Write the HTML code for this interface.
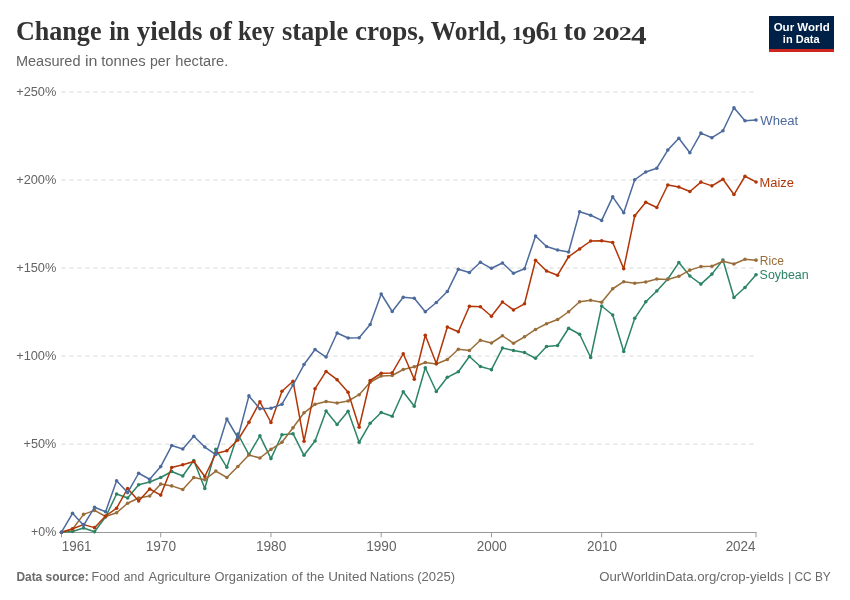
<!DOCTYPE html>
<html><head><meta charset="utf-8"><title>Change in yields of key staple crops</title>
<style>
html,body{margin:0;padding:0;background:#ffffff;}
body{width:850px;height:600px;overflow:hidden;font-family:"Liberation Sans",sans-serif;}
svg{display:block;will-change:transform;}
text{white-space:pre;}
</style></head><body>
<svg width="850" height="600" viewBox="0 0 850 600" font-family="Liberation Sans, sans-serif">
<line x1="61.5" x2="756" y1="91.95" y2="91.95" stroke="#d8d8d8" stroke-width="1" stroke-dasharray="4,4"/>
<line x1="61.5" x2="756" y1="180.0" y2="180.0" stroke="#d8d8d8" stroke-width="1" stroke-dasharray="4,4"/>
<line x1="61.5" x2="756" y1="268.05" y2="268.05" stroke="#d8d8d8" stroke-width="1" stroke-dasharray="4,4"/>
<line x1="61.5" x2="756" y1="356.1" y2="356.1" stroke="#d8d8d8" stroke-width="1" stroke-dasharray="4,4"/>
<line x1="61.5" x2="756" y1="444.15" y2="444.15" stroke="#d8d8d8" stroke-width="1" stroke-dasharray="4,4"/>
<line x1="61.5" x2="756.5" y1="532.5" y2="532.5" stroke="#999999" stroke-width="1"/>
<line x1="61.50" x2="61.50" y1="532.5" y2="537.3" stroke="#999999" stroke-width="1"/>
<line x1="160.72" x2="160.72" y1="532.5" y2="537.3" stroke="#999999" stroke-width="1"/>
<line x1="270.96" x2="270.96" y1="532.5" y2="537.3" stroke="#999999" stroke-width="1"/>
<line x1="381.20" x2="381.20" y1="532.5" y2="537.3" stroke="#999999" stroke-width="1"/>
<line x1="491.44" x2="491.44" y1="532.5" y2="537.3" stroke="#999999" stroke-width="1"/>
<line x1="601.68" x2="601.68" y1="532.5" y2="537.3" stroke="#999999" stroke-width="1"/>
<line x1="756.01" x2="756.01" y1="532.5" y2="537.3" stroke="#999999" stroke-width="1"/>
<polyline points="61.50,532.20 72.52,531.50 83.55,528.05 94.57,531.70 105.60,516.90 116.62,493.95 127.64,498.00 138.67,484.80 149.69,481.95 160.72,477.50 171.74,471.50 182.76,476.00 193.79,460.55 204.81,488.45 215.84,449.30 226.86,467.30 237.88,434.00 248.91,454.55 259.93,435.80 270.96,458.60 281.98,434.75 293.00,433.70 304.03,455.30 315.05,441.05 326.08,411.05 337.10,424.55 348.12,411.20 359.15,442.25 370.17,423.20 381.20,412.55 392.22,416.30 403.24,391.70 414.27,406.25 425.29,367.70 436.32,391.55 447.34,377.30 458.36,371.75 469.39,356.45 480.41,366.50 491.44,369.65 502.46,348.05 513.48,350.45 524.51,352.55 535.53,358.25 546.56,346.55 557.58,345.50 568.60,328.25 579.63,334.25 590.65,357.50 601.68,306.00 612.70,315.00 623.72,351.45 634.75,318.30 645.77,301.80 656.80,291.00 667.82,279.00 678.84,262.55 689.87,276.00 700.89,284.10 711.92,274.10 722.94,260.00 733.96,297.50 744.99,287.45 756.01,274.70" fill="none" stroke="#2C8465" stroke-width="1.5" stroke-linejoin="round"/>
<g fill="#2C8465"><circle cx="61.50" cy="532.20" r="1.8"/><circle cx="72.52" cy="531.50" r="1.8"/><circle cx="83.55" cy="528.05" r="1.8"/><circle cx="94.57" cy="531.70" r="1.8"/><circle cx="105.60" cy="516.90" r="1.8"/><circle cx="116.62" cy="493.95" r="1.8"/><circle cx="127.64" cy="498.00" r="1.8"/><circle cx="138.67" cy="484.80" r="1.8"/><circle cx="149.69" cy="481.95" r="1.8"/><circle cx="160.72" cy="477.50" r="1.8"/><circle cx="171.74" cy="471.50" r="1.8"/><circle cx="182.76" cy="476.00" r="1.8"/><circle cx="193.79" cy="460.55" r="1.8"/><circle cx="204.81" cy="488.45" r="1.8"/><circle cx="215.84" cy="449.30" r="1.8"/><circle cx="226.86" cy="467.30" r="1.8"/><circle cx="237.88" cy="434.00" r="1.8"/><circle cx="248.91" cy="454.55" r="1.8"/><circle cx="259.93" cy="435.80" r="1.8"/><circle cx="270.96" cy="458.60" r="1.8"/><circle cx="281.98" cy="434.75" r="1.8"/><circle cx="293.00" cy="433.70" r="1.8"/><circle cx="304.03" cy="455.30" r="1.8"/><circle cx="315.05" cy="441.05" r="1.8"/><circle cx="326.08" cy="411.05" r="1.8"/><circle cx="337.10" cy="424.55" r="1.8"/><circle cx="348.12" cy="411.20" r="1.8"/><circle cx="359.15" cy="442.25" r="1.8"/><circle cx="370.17" cy="423.20" r="1.8"/><circle cx="381.20" cy="412.55" r="1.8"/><circle cx="392.22" cy="416.30" r="1.8"/><circle cx="403.24" cy="391.70" r="1.8"/><circle cx="414.27" cy="406.25" r="1.8"/><circle cx="425.29" cy="367.70" r="1.8"/><circle cx="436.32" cy="391.55" r="1.8"/><circle cx="447.34" cy="377.30" r="1.8"/><circle cx="458.36" cy="371.75" r="1.8"/><circle cx="469.39" cy="356.45" r="1.8"/><circle cx="480.41" cy="366.50" r="1.8"/><circle cx="491.44" cy="369.65" r="1.8"/><circle cx="502.46" cy="348.05" r="1.8"/><circle cx="513.48" cy="350.45" r="1.8"/><circle cx="524.51" cy="352.55" r="1.8"/><circle cx="535.53" cy="358.25" r="1.8"/><circle cx="546.56" cy="346.55" r="1.8"/><circle cx="557.58" cy="345.50" r="1.8"/><circle cx="568.60" cy="328.25" r="1.8"/><circle cx="579.63" cy="334.25" r="1.8"/><circle cx="590.65" cy="357.50" r="1.8"/><circle cx="601.68" cy="306.00" r="1.8"/><circle cx="612.70" cy="315.00" r="1.8"/><circle cx="623.72" cy="351.45" r="1.8"/><circle cx="634.75" cy="318.30" r="1.8"/><circle cx="645.77" cy="301.80" r="1.8"/><circle cx="656.80" cy="291.00" r="1.8"/><circle cx="667.82" cy="279.00" r="1.8"/><circle cx="678.84" cy="262.55" r="1.8"/><circle cx="689.87" cy="276.00" r="1.8"/><circle cx="700.89" cy="284.10" r="1.8"/><circle cx="711.92" cy="274.10" r="1.8"/><circle cx="722.94" cy="260.00" r="1.8"/><circle cx="733.96" cy="297.50" r="1.8"/><circle cx="744.99" cy="287.45" r="1.8"/><circle cx="756.01" cy="274.70" r="1.8"/></g>
<polyline points="61.50,532.20 72.52,529.20 83.55,514.40 94.57,510.40 105.60,516.50 116.62,512.70 127.64,503.25 138.67,498.00 149.69,496.00 160.72,484.10 171.74,485.90 182.76,489.50 193.79,477.50 204.81,479.75 215.84,471.05 226.86,477.50 237.88,466.55 248.91,455.00 259.93,458.00 270.96,449.40 281.98,442.30 293.00,427.80 304.03,412.80 315.05,404.30 326.08,401.45 337.10,402.95 348.12,401.00 359.15,394.70 370.17,382.25 381.20,376.00 392.22,375.50 403.24,369.50 414.27,366.80 425.29,362.45 436.32,363.95 447.34,359.45 458.36,349.25 469.39,350.45 480.41,340.25 491.44,343.00 502.46,335.75 513.48,343.25 524.51,336.80 535.53,329.45 546.56,323.75 557.58,319.55 568.60,311.75 579.63,301.70 590.65,300.20 601.68,302.30 612.70,288.75 623.72,281.70 634.75,283.20 645.77,282.00 656.80,279.00 667.82,279.45 678.84,276.30 689.87,270.10 700.89,266.60 711.92,266.30 722.94,261.20 733.96,264.05 744.99,259.25 756.01,260.15" fill="none" stroke="#996D39" stroke-width="1.5" stroke-linejoin="round"/>
<g fill="#996D39"><circle cx="61.50" cy="532.20" r="1.8"/><circle cx="72.52" cy="529.20" r="1.8"/><circle cx="83.55" cy="514.40" r="1.8"/><circle cx="94.57" cy="510.40" r="1.8"/><circle cx="105.60" cy="516.50" r="1.8"/><circle cx="116.62" cy="512.70" r="1.8"/><circle cx="127.64" cy="503.25" r="1.8"/><circle cx="138.67" cy="498.00" r="1.8"/><circle cx="149.69" cy="496.00" r="1.8"/><circle cx="160.72" cy="484.10" r="1.8"/><circle cx="171.74" cy="485.90" r="1.8"/><circle cx="182.76" cy="489.50" r="1.8"/><circle cx="193.79" cy="477.50" r="1.8"/><circle cx="204.81" cy="479.75" r="1.8"/><circle cx="215.84" cy="471.05" r="1.8"/><circle cx="226.86" cy="477.50" r="1.8"/><circle cx="237.88" cy="466.55" r="1.8"/><circle cx="248.91" cy="455.00" r="1.8"/><circle cx="259.93" cy="458.00" r="1.8"/><circle cx="270.96" cy="449.40" r="1.8"/><circle cx="281.98" cy="442.30" r="1.8"/><circle cx="293.00" cy="427.80" r="1.8"/><circle cx="304.03" cy="412.80" r="1.8"/><circle cx="315.05" cy="404.30" r="1.8"/><circle cx="326.08" cy="401.45" r="1.8"/><circle cx="337.10" cy="402.95" r="1.8"/><circle cx="348.12" cy="401.00" r="1.8"/><circle cx="359.15" cy="394.70" r="1.8"/><circle cx="370.17" cy="382.25" r="1.8"/><circle cx="381.20" cy="376.00" r="1.8"/><circle cx="392.22" cy="375.50" r="1.8"/><circle cx="403.24" cy="369.50" r="1.8"/><circle cx="414.27" cy="366.80" r="1.8"/><circle cx="425.29" cy="362.45" r="1.8"/><circle cx="436.32" cy="363.95" r="1.8"/><circle cx="447.34" cy="359.45" r="1.8"/><circle cx="458.36" cy="349.25" r="1.8"/><circle cx="469.39" cy="350.45" r="1.8"/><circle cx="480.41" cy="340.25" r="1.8"/><circle cx="491.44" cy="343.00" r="1.8"/><circle cx="502.46" cy="335.75" r="1.8"/><circle cx="513.48" cy="343.25" r="1.8"/><circle cx="524.51" cy="336.80" r="1.8"/><circle cx="535.53" cy="329.45" r="1.8"/><circle cx="546.56" cy="323.75" r="1.8"/><circle cx="557.58" cy="319.55" r="1.8"/><circle cx="568.60" cy="311.75" r="1.8"/><circle cx="579.63" cy="301.70" r="1.8"/><circle cx="590.65" cy="300.20" r="1.8"/><circle cx="601.68" cy="302.30" r="1.8"/><circle cx="612.70" cy="288.75" r="1.8"/><circle cx="623.72" cy="281.70" r="1.8"/><circle cx="634.75" cy="283.20" r="1.8"/><circle cx="645.77" cy="282.00" r="1.8"/><circle cx="656.80" cy="279.00" r="1.8"/><circle cx="667.82" cy="279.45" r="1.8"/><circle cx="678.84" cy="276.30" r="1.8"/><circle cx="689.87" cy="270.10" r="1.8"/><circle cx="700.89" cy="266.60" r="1.8"/><circle cx="711.92" cy="266.30" r="1.8"/><circle cx="722.94" cy="261.20" r="1.8"/><circle cx="733.96" cy="264.05" r="1.8"/><circle cx="744.99" cy="259.25" r="1.8"/><circle cx="756.01" cy="260.15" r="1.8"/></g>
<polyline points="61.50,532.20 72.52,528.80 83.55,524.60 94.57,527.65 105.60,516.00 116.62,508.20 127.64,488.50 138.67,501.00 149.69,489.00 160.72,495.10 171.74,467.50 182.76,464.75 193.79,461.45 204.81,476.45 215.84,453.50 226.86,450.80 237.88,440.00 248.91,422.30 259.93,401.80 270.96,422.50 281.98,391.25 293.00,381.20 304.03,441.20 315.05,388.70 326.08,371.45 337.10,379.70 348.12,392.30 359.15,427.25 370.17,380.50 381.20,373.25 392.22,372.90 403.24,353.75 414.27,379.25 425.29,335.30 436.32,363.50 447.34,326.95 458.36,331.75 469.39,306.25 480.41,306.70 491.44,316.30 502.46,302.00 513.48,309.95 524.51,303.80 535.53,260.20 546.56,271.00 557.58,275.20 568.60,256.75 579.63,248.95 590.65,241.00 601.68,240.80 612.70,242.45 623.72,268.70 634.75,215.75 645.77,202.25 656.80,207.50 667.82,185.00 678.84,186.95 689.87,191.45 700.89,182.10 711.92,185.85 722.94,179.25 733.96,194.55 744.99,176.25 756.01,181.95" fill="none" stroke="#B13507" stroke-width="1.5" stroke-linejoin="round"/>
<g fill="#B13507"><circle cx="61.50" cy="532.20" r="1.8"/><circle cx="72.52" cy="528.80" r="1.8"/><circle cx="83.55" cy="524.60" r="1.8"/><circle cx="94.57" cy="527.65" r="1.8"/><circle cx="105.60" cy="516.00" r="1.8"/><circle cx="116.62" cy="508.20" r="1.8"/><circle cx="127.64" cy="488.50" r="1.8"/><circle cx="138.67" cy="501.00" r="1.8"/><circle cx="149.69" cy="489.00" r="1.8"/><circle cx="160.72" cy="495.10" r="1.8"/><circle cx="171.74" cy="467.50" r="1.8"/><circle cx="182.76" cy="464.75" r="1.8"/><circle cx="193.79" cy="461.45" r="1.8"/><circle cx="204.81" cy="476.45" r="1.8"/><circle cx="215.84" cy="453.50" r="1.8"/><circle cx="226.86" cy="450.80" r="1.8"/><circle cx="237.88" cy="440.00" r="1.8"/><circle cx="248.91" cy="422.30" r="1.8"/><circle cx="259.93" cy="401.80" r="1.8"/><circle cx="270.96" cy="422.50" r="1.8"/><circle cx="281.98" cy="391.25" r="1.8"/><circle cx="293.00" cy="381.20" r="1.8"/><circle cx="304.03" cy="441.20" r="1.8"/><circle cx="315.05" cy="388.70" r="1.8"/><circle cx="326.08" cy="371.45" r="1.8"/><circle cx="337.10" cy="379.70" r="1.8"/><circle cx="348.12" cy="392.30" r="1.8"/><circle cx="359.15" cy="427.25" r="1.8"/><circle cx="370.17" cy="380.50" r="1.8"/><circle cx="381.20" cy="373.25" r="1.8"/><circle cx="392.22" cy="372.90" r="1.8"/><circle cx="403.24" cy="353.75" r="1.8"/><circle cx="414.27" cy="379.25" r="1.8"/><circle cx="425.29" cy="335.30" r="1.8"/><circle cx="436.32" cy="363.50" r="1.8"/><circle cx="447.34" cy="326.95" r="1.8"/><circle cx="458.36" cy="331.75" r="1.8"/><circle cx="469.39" cy="306.25" r="1.8"/><circle cx="480.41" cy="306.70" r="1.8"/><circle cx="491.44" cy="316.30" r="1.8"/><circle cx="502.46" cy="302.00" r="1.8"/><circle cx="513.48" cy="309.95" r="1.8"/><circle cx="524.51" cy="303.80" r="1.8"/><circle cx="535.53" cy="260.20" r="1.8"/><circle cx="546.56" cy="271.00" r="1.8"/><circle cx="557.58" cy="275.20" r="1.8"/><circle cx="568.60" cy="256.75" r="1.8"/><circle cx="579.63" cy="248.95" r="1.8"/><circle cx="590.65" cy="241.00" r="1.8"/><circle cx="601.68" cy="240.80" r="1.8"/><circle cx="612.70" cy="242.45" r="1.8"/><circle cx="623.72" cy="268.70" r="1.8"/><circle cx="634.75" cy="215.75" r="1.8"/><circle cx="645.77" cy="202.25" r="1.8"/><circle cx="656.80" cy="207.50" r="1.8"/><circle cx="667.82" cy="185.00" r="1.8"/><circle cx="678.84" cy="186.95" r="1.8"/><circle cx="689.87" cy="191.45" r="1.8"/><circle cx="700.89" cy="182.10" r="1.8"/><circle cx="711.92" cy="185.85" r="1.8"/><circle cx="722.94" cy="179.25" r="1.8"/><circle cx="733.96" cy="194.55" r="1.8"/><circle cx="744.99" cy="176.25" r="1.8"/><circle cx="756.01" cy="181.95" r="1.8"/></g>
<polyline points="61.50,532.20 72.52,513.30 83.55,525.30 94.57,507.30 105.60,511.70 116.62,480.75 127.64,492.60 138.67,473.25 149.69,479.25 160.72,466.60 171.74,445.55 182.76,449.00 193.79,436.25 204.81,447.05 215.84,454.55 226.86,419.00 237.88,437.75 248.91,395.90 259.93,408.75 270.96,408.20 281.98,404.20 293.00,385.00 304.03,364.55 315.05,349.55 326.08,357.05 337.10,333.05 348.12,338.00 359.15,337.70 370.17,324.50 381.20,294.00 392.22,311.50 403.24,297.25 414.27,298.30 425.29,311.80 436.32,302.50 447.34,291.55 458.36,269.20 469.39,272.50 480.41,262.30 491.44,268.30 502.46,263.05 513.48,273.25 524.51,268.75 535.53,236.05 546.56,246.55 557.58,250.00 568.60,251.95 579.63,211.75 590.65,215.20 601.68,220.40 612.70,196.85 623.72,212.75 634.75,179.75 645.77,171.95 656.80,168.20 667.82,150.05 678.84,138.20 689.87,152.75 700.89,133.10 711.92,137.70 722.94,130.80 733.96,107.70 744.99,120.75 756.01,120.00" fill="none" stroke="#4C6A9C" stroke-width="1.5" stroke-linejoin="round"/>
<g fill="#4C6A9C"><circle cx="61.50" cy="532.20" r="1.8"/><circle cx="72.52" cy="513.30" r="1.8"/><circle cx="83.55" cy="525.30" r="1.8"/><circle cx="94.57" cy="507.30" r="1.8"/><circle cx="105.60" cy="511.70" r="1.8"/><circle cx="116.62" cy="480.75" r="1.8"/><circle cx="127.64" cy="492.60" r="1.8"/><circle cx="138.67" cy="473.25" r="1.8"/><circle cx="149.69" cy="479.25" r="1.8"/><circle cx="160.72" cy="466.60" r="1.8"/><circle cx="171.74" cy="445.55" r="1.8"/><circle cx="182.76" cy="449.00" r="1.8"/><circle cx="193.79" cy="436.25" r="1.8"/><circle cx="204.81" cy="447.05" r="1.8"/><circle cx="215.84" cy="454.55" r="1.8"/><circle cx="226.86" cy="419.00" r="1.8"/><circle cx="237.88" cy="437.75" r="1.8"/><circle cx="248.91" cy="395.90" r="1.8"/><circle cx="259.93" cy="408.75" r="1.8"/><circle cx="270.96" cy="408.20" r="1.8"/><circle cx="281.98" cy="404.20" r="1.8"/><circle cx="293.00" cy="385.00" r="1.8"/><circle cx="304.03" cy="364.55" r="1.8"/><circle cx="315.05" cy="349.55" r="1.8"/><circle cx="326.08" cy="357.05" r="1.8"/><circle cx="337.10" cy="333.05" r="1.8"/><circle cx="348.12" cy="338.00" r="1.8"/><circle cx="359.15" cy="337.70" r="1.8"/><circle cx="370.17" cy="324.50" r="1.8"/><circle cx="381.20" cy="294.00" r="1.8"/><circle cx="392.22" cy="311.50" r="1.8"/><circle cx="403.24" cy="297.25" r="1.8"/><circle cx="414.27" cy="298.30" r="1.8"/><circle cx="425.29" cy="311.80" r="1.8"/><circle cx="436.32" cy="302.50" r="1.8"/><circle cx="447.34" cy="291.55" r="1.8"/><circle cx="458.36" cy="269.20" r="1.8"/><circle cx="469.39" cy="272.50" r="1.8"/><circle cx="480.41" cy="262.30" r="1.8"/><circle cx="491.44" cy="268.30" r="1.8"/><circle cx="502.46" cy="263.05" r="1.8"/><circle cx="513.48" cy="273.25" r="1.8"/><circle cx="524.51" cy="268.75" r="1.8"/><circle cx="535.53" cy="236.05" r="1.8"/><circle cx="546.56" cy="246.55" r="1.8"/><circle cx="557.58" cy="250.00" r="1.8"/><circle cx="568.60" cy="251.95" r="1.8"/><circle cx="579.63" cy="211.75" r="1.8"/><circle cx="590.65" cy="215.20" r="1.8"/><circle cx="601.68" cy="220.40" r="1.8"/><circle cx="612.70" cy="196.85" r="1.8"/><circle cx="623.72" cy="212.75" r="1.8"/><circle cx="634.75" cy="179.75" r="1.8"/><circle cx="645.77" cy="171.95" r="1.8"/><circle cx="656.80" cy="168.20" r="1.8"/><circle cx="667.82" cy="150.05" r="1.8"/><circle cx="678.84" cy="138.20" r="1.8"/><circle cx="689.87" cy="152.75" r="1.8"/><circle cx="700.89" cy="133.10" r="1.8"/><circle cx="711.92" cy="137.70" r="1.8"/><circle cx="722.94" cy="130.80" r="1.8"/><circle cx="733.96" cy="107.70" r="1.8"/><circle cx="744.99" cy="120.75" r="1.8"/><circle cx="756.01" cy="120.00" r="1.8"/></g>
<rect x="769" y="16" width="65" height="36" fill="#002147"/>
<rect x="769" y="49" width="65" height="3" fill="#ce261e"/>
<text transform="translate(15.96,39.50) scale(0.9667,1.0000)" font-size="27" fill="#333333" font-family="Liberation Serif, serif" font-weight="bold">Change</text>
<text transform="translate(109.21,39.50) scale(0.9078,1.0000)" font-size="27" fill="#333333" font-family="Liberation Serif, serif" font-weight="bold">in</text>
<text transform="translate(136.70,39.50) scale(0.9971,1.0000)" font-size="27" fill="#333333" font-family="Liberation Serif, serif" font-weight="bold">yields</text>
<text transform="translate(208.98,39.50) scale(1.0163,1.0000)" font-size="27" fill="#333333" font-family="Liberation Serif, serif" font-weight="bold">of</text>
<text transform="translate(237.91,39.50) scale(0.9034,1.0000)" font-size="27" fill="#333333" font-family="Liberation Serif, serif" font-weight="bold">key</text>
<text transform="translate(281.90,39.50) scale(0.9826,1.0000)" font-size="27" fill="#333333" font-family="Liberation Serif, serif" font-weight="bold">staple</text>
<text transform="translate(355.09,39.50) scale(1.0039,1.0000)" font-size="27" fill="#333333" font-family="Liberation Serif, serif" font-weight="bold">crops,</text>
<text transform="translate(430.65,39.50) scale(0.9421,1.0000)" font-size="27" fill="#333333" font-family="Liberation Serif, serif" font-weight="bold">World,</text>
<text transform="translate(563.83,39.50) scale(1.0135,1.0000)" font-size="27" fill="#333333" font-family="Liberation Serif, serif" font-weight="bold">to</text>
<text transform="translate(511.71,39.60) scale(0.8308,0.6958)" font-size="27" fill="#333333" font-family="Liberation Serif, serif" font-weight="bold">1</text>
<text transform="translate(522.03,43.51) scale(1.0535,0.9150)" font-size="27" fill="#333333" font-family="Liberation Serif, serif" font-weight="bold">9</text>
<text transform="translate(535.55,39.57) scale(1.0453,0.9749)" font-size="27" fill="#333333" font-family="Liberation Serif, serif" font-weight="bold">6</text>
<text transform="translate(548.36,39.60) scale(0.7608,0.6958)" font-size="27" fill="#333333" font-family="Liberation Serif, serif" font-weight="bold">1</text>
<text transform="translate(592.59,39.71) scale(0.9347,0.6855)" font-size="27" fill="#333333" font-family="Liberation Serif, serif" font-weight="bold">2</text>
<text transform="translate(604.27,39.73) scale(1.1448,0.6863)" font-size="27" fill="#333333" font-family="Liberation Serif, serif" font-weight="bold">0</text>
<text transform="translate(618.66,39.71) scale(0.9612,0.6855)" font-size="27" fill="#333333" font-family="Liberation Serif, serif" font-weight="bold">2</text>
<text transform="translate(630.89,43.75) scale(1.1574,0.9428)" font-size="27" fill="#333333" font-family="Liberation Serif, serif" font-weight="bold">4</text>
<text transform="translate(15.94,66.30) scale(1.0523,1.0000)" font-size="13.8" fill="#646464">Measured</text>
<text transform="translate(84.94,66.30) scale(1.1600,1.0000)" font-size="13.8" fill="#646464">in</text>
<text transform="translate(101.25,66.30) scale(1.0714,1.0000)" font-size="13.8" fill="#646464">tonnes</text>
<text transform="translate(149.95,66.30) scale(1.0244,1.0000)" font-size="13.8" fill="#646464">per</text>
<text transform="translate(175.32,66.30) scale(1.0622,1.0000)" font-size="13.8" fill="#646464">hectare.</text>
<text transform="translate(16.19,96.00) scale(0.9617,1.0000)" font-size="13.3" fill="#646464">+250%</text>
<text transform="translate(16.19,184.00) scale(0.9617,1.0000)" font-size="13.3" fill="#646464">+200%</text>
<text transform="translate(16.19,272.00) scale(0.9617,1.0000)" font-size="13.3" fill="#646464">+150%</text>
<text transform="translate(16.19,360.00) scale(0.9617,1.0000)" font-size="13.3" fill="#646464">+100%</text>
<text transform="translate(23.59,448.00) scale(0.9532,1.0000)" font-size="13.3" fill="#646464">+50%</text>
<text transform="translate(31.10,536.00) scale(0.9359,1.0000)" font-size="13.3" fill="#646464">+0%</text>
<text transform="translate(61.76,550.70) scale(0.9553,1.0000)" font-size="14.0" fill="#646464">1961</text>
<text transform="translate(145.66,550.70) scale(0.9744,1.0000)" font-size="14.0" fill="#646464">1970</text>
<text transform="translate(255.90,550.70) scale(0.9744,1.0000)" font-size="14.0" fill="#646464">1980</text>
<text transform="translate(366.14,550.70) scale(0.9744,1.0000)" font-size="14.0" fill="#646464">1990</text>
<text transform="translate(476.66,550.70) scale(0.9653,1.0000)" font-size="14.0" fill="#646464">2000</text>
<text transform="translate(586.90,550.70) scale(0.9653,1.0000)" font-size="14.0" fill="#646464">2010</text>
<text transform="translate(725.63,550.70) scale(0.9608,1.0000)" font-size="14.0" fill="#646464">2024</text>
<text transform="translate(760.30,124.80) scale(0.9706,1.0000)" font-size="13.5" fill="#4C6A9C">Wheat</text>
<text transform="translate(759.57,186.80) scale(0.9552,1.0000)" font-size="13.5" fill="#B13507">Maize</text>
<text transform="translate(759.84,264.60) scale(0.8923,1.0000)" font-size="13.5" fill="#996D39">Rice</text>
<text transform="translate(759.60,279.40) scale(0.9212,1.0000)" font-size="13.5" fill="#2C8465">Soybean</text>
<text transform="translate(16.38,581.00) scale(0.9184,1.0000)" font-size="13" fill="#6a6a6a" font-weight="bold">Data source:</text>
<text transform="translate(91.61,581.00) scale(0.9512,1.0000)" font-size="13" fill="#6a6a6a">Food</text>
<text transform="translate(123.81,581.00) scale(0.9393,1.0000)" font-size="13" fill="#6a6a6a">and</text>
<text transform="translate(148.50,581.00) scale(1.0005,1.0000)" font-size="13" fill="#6a6a6a">Agriculture</text>
<text transform="translate(214.48,581.00) scale(0.9909,1.0000)" font-size="13" fill="#6a6a6a">Organization</text>
<text transform="translate(291.57,581.00) scale(1.0145,1.0000)" font-size="13" fill="#6a6a6a">of</text>
<text transform="translate(306.57,581.00) scale(0.9787,1.0000)" font-size="13" fill="#6a6a6a">the</text>
<text transform="translate(328.16,581.00) scale(1.0323,1.0000)" font-size="13" fill="#6a6a6a">United</text>
<text transform="translate(369.85,581.00) scale(1.0059,1.0000)" font-size="13" fill="#6a6a6a">Nations</text>
<text transform="translate(417.21,581.00) scale(1.0081,1.0000)" font-size="13" fill="#6a6a6a">(2025)</text>
<text transform="translate(599.17,581.00) scale(1.0159,1.0000)" font-size="13" fill="#6a6a6a">OurWorldinData.org/crop-yields</text>
<text transform="translate(787.96,581.00) scale(1.0000,1.0000)" font-size="13" fill="#6a6a6a">|</text>
<text transform="translate(794.40,581.00) scale(0.9161,1.0000)" font-size="13" fill="#6a6a6a">CC BY</text>
<text transform="translate(773.64,30.50) scale(0.9791,1.0000)" font-size="11.8" fill="#ffffff" font-weight="bold">Our World</text>
<text transform="translate(782.84,42.50) scale(0.9357,1.0000)" font-size="11.8" fill="#ffffff" font-weight="bold">in Data</text>
</svg>
</body></html>
